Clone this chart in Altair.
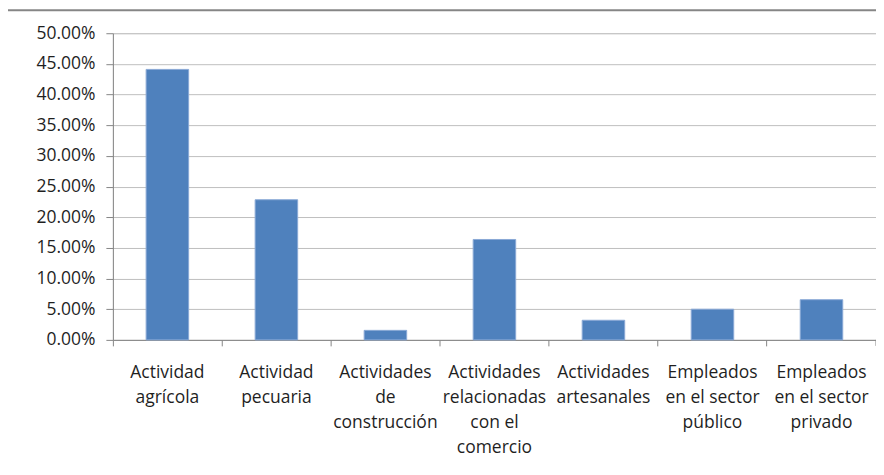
import altair as alt
import pandas as pd

categories = [
    "Actividad|agrícola",
    "Actividad|pecuaria",
    "Actividades|de|construcción",
    "Actividades|relacionadas|con el|comercio",
    "Actividades|artesanales",
    "Empleados|en el sector|público",
    "Empleados|en el sector|privado",
]
values = [0.4410, 0.2285, 0.0155, 0.1637, 0.0320, 0.0500, 0.0655]

df = pd.DataFrame({"cat": categories, "val": values})

FONT = "Open Sans"
TXT = "#1f1f1f"
AX = "#868686"

xscale = alt.Scale(domain=categories, paddingInner=0, paddingOuter=0)

bars = alt.Chart(df).mark_bar(
    color="#4F81BD", stroke="#8AA9D6", strokeWidth=1,
    width=alt.RelativeBandSize(0.39)
).encode(
    x=alt.X("cat:N", sort=categories, scale=xscale, title=None,
            axis=alt.Axis(labelAngle=0, labelExpr="split(datum.label, '|')",
                          bandPosition=0, labelLineHeight=25, labelPadding=18,
                          labelFontSize=17.5, labelFont=FONT, labelColor=TXT,
                          domainColor=AX, tickColor=AX, tickSize=6,
                          grid=False, labelAlign="center",
                          labelBaseline="top")),
    y=alt.Y("val:Q", scale=alt.Scale(domain=[0, 0.5]), title=None,
            axis=alt.Axis(format=".2%", values=[i * 0.05 for i in range(11)],
                          labelFontSize=17.5, labelFont=FONT, labelColor=TXT,
                          domainColor=AX, tickColor=AX, tickSize=7,
                          gridColor="#BFBFBF", labelPadding=11)),
)

one = pd.DataFrame({"a": [0]})

# last tick at the right end of the category axis
endtick = alt.Chart(one).mark_rule(color=AX).encode(
    x=alt.value(764), y=alt.value(307), y2=alt.value(313)
)

# outer chart frame (decorative)
frame_top = alt.Chart(one).mark_rule(color=AX, strokeWidth=2, clip=False).encode(
    x=alt.value(-106), x2=alt.value(790), y=alt.value(-23)
)
frame_left = alt.Chart(one).mark_rule(color=AX, strokeWidth=2, clip=False).encode(
    x=alt.value(-106), y=alt.value(-23), y2=alt.value(500)
)

chart = alt.layer(frame_top, frame_left, bars, endtick).properties(
    width=764, height=307,
    autosize=alt.AutoSizeParams(type="none"),
    padding={"left": 105, "top": 25, "right": 0, "bottom": 120},
).configure_view(stroke=None).configure(background="white")

chart.save("out.html", embed_options={"renderer": "svg", "actions": False})
